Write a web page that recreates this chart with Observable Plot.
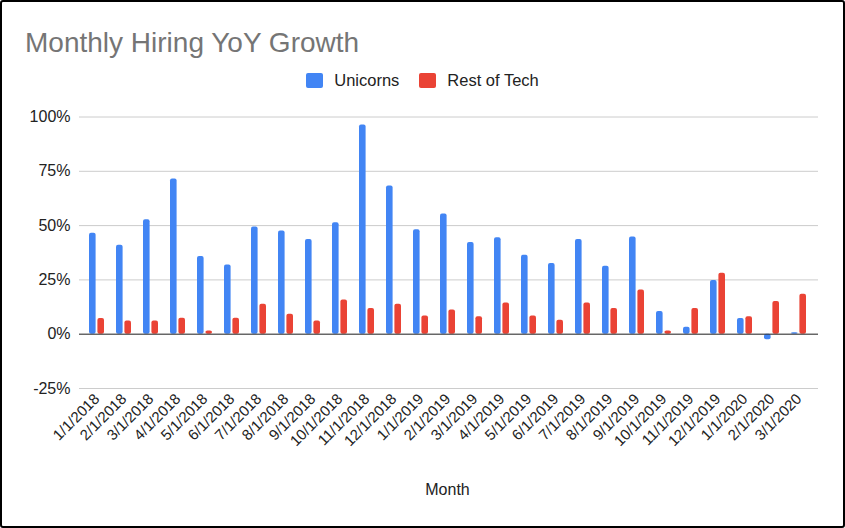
<!DOCTYPE html>
<html><head><meta charset="utf-8">
<script src="https://cdn.jsdelivr.net/npm/d3@7"></script>
<script src="https://cdn.jsdelivr.net/npm/@observablehq/plot@0.6"></script>
<style>
html,body{margin:0;padding:0;background:#fff;}
body{width:845px;height:528px;position:relative;overflow:hidden;font-family:"Liberation Sans",Arial,sans-serif;}
#border{position:absolute;left:0;top:0;width:845px;height:528px;border:2px solid #000;box-sizing:border-box;border-radius:3px;pointer-events:none;z-index:5}
#title{position:absolute;left:25px;top:27px;font-size:28px;color:#757575;white-space:nowrap}
#legend{position:absolute;top:71px;left:0;width:845px;display:flex;justify-content:center;align-items:center;font-size:16.5px;color:#222}
.item{display:flex;align-items:center;margin:0 10px}
.sw{width:17px;height:15px;border-radius:2px;margin-right:11px}
#chart{position:absolute;left:0;top:100px}
</style></head>
<body>
<div id="border"></div>
<div id="title">Monthly Hiring YoY Growth</div>
<div id="legend"></div>
<div id="chart"></div>
<script>
const months = ["1/1/2018","2/1/2018","3/1/2018","4/1/2018","5/1/2018","6/1/2018","7/1/2018","8/1/2018","9/1/2018","10/1/2018","11/1/2018","12/1/2018","1/1/2019","2/1/2019","3/1/2019","4/1/2019","5/1/2019","6/1/2019","7/1/2019","8/1/2019","9/1/2019","10/1/2019","11/1/2019","12/1/2019","1/1/2020","2/1/2020","3/1/2020"];
const unicorns = [46.5,41,52.7,71.4,35.8,31.9,49.4,47.5,43.6,51.3,96.3,68.2,48.1,55.3,42.2,44.4,36.4,32.5,43.6,31.3,44.8,10.4,3.2,24.7,7.2,-2.5,0.7];
const restOfTech = [7.2,6.1,6.1,7.3,1.5,7.3,13.8,9.2,6.1,15.7,11.8,13.8,8.4,11.1,8,14.4,8.4,6.4,14.4,11.8,20.3,1.5,11.8,28.1,8,15,18.4];
const seriesNames = ["Unicorns","Rest of Tech"];
const seriesColors = ["#4285F4","#EA4335"];
const yTicks = [-25,0,25,50,75,100];

const uData = months.map((m,i)=>({month:m, value:unicorns[i]}));
const rData = months.map((m,i)=>({month:m, value:restOfTech[i]}));

const legend = document.getElementById("legend");
seriesNames.forEach((n,i)=>{
  const it = document.createElement("div"); it.className="item";
  const sw = document.createElement("div"); sw.className="sw"; sw.style.background=seriesColors[i];
  const t = document.createElement("span"); t.textContent=n;
  it.appendChild(sw); it.appendChild(t); legend.appendChild(it);
});

const inset = 10.2, off = 4.2;
const chart = Plot.plot({
  width: 845, height: 428,
  marginTop: 16.5, marginBottom: 140, marginLeft: 82, marginRight: 33,
  style: {fontFamily: '"Liberation Sans", Arial, sans-serif', background: "transparent"},
  x: {type: "band", domain: months, padding: 0},
  y: {domain: [-25, 100]},
  marks: [
    Plot.ruleY(yTicks, {stroke: "#cccccc", strokeWidth: 1, insetLeft: -3, insetRight: -6}),
    Plot.barY(uData, {x: "month", y: "value", fill: seriesColors[0], insetLeft: inset, insetRight: inset, dx: -off, rx: 2}),
    Plot.barY(rData, {x: "month", y: "value", fill: seriesColors[1], insetLeft: inset, insetRight: inset, dx: off, rx: 2}),
    Plot.ruleY([0], {stroke: "#333333", strokeWidth: 1, insetLeft: -3, insetRight: -6}),
    Plot.axisY({ticks: yTicks, tickFormat: d => d + "%", tickSize: 0, tickPadding: 12, fontSize: 16, label: null, color: "#222"}),
    Plot.axisX({tickSize: 0, tickRotate: -45, tickPadding: 8, fontSize: 15, color: "#222", label: "Month", labelAnchor: "center", labelArrow: "none", labelOffset: 106})
  ]
});
// enlarge the axis title only
chart.querySelectorAll("text").forEach(t => { if (t.textContent === "Month") t.setAttribute("font-size", 16); });
document.getElementById("chart").appendChild(chart);
</script>
</body></html>
